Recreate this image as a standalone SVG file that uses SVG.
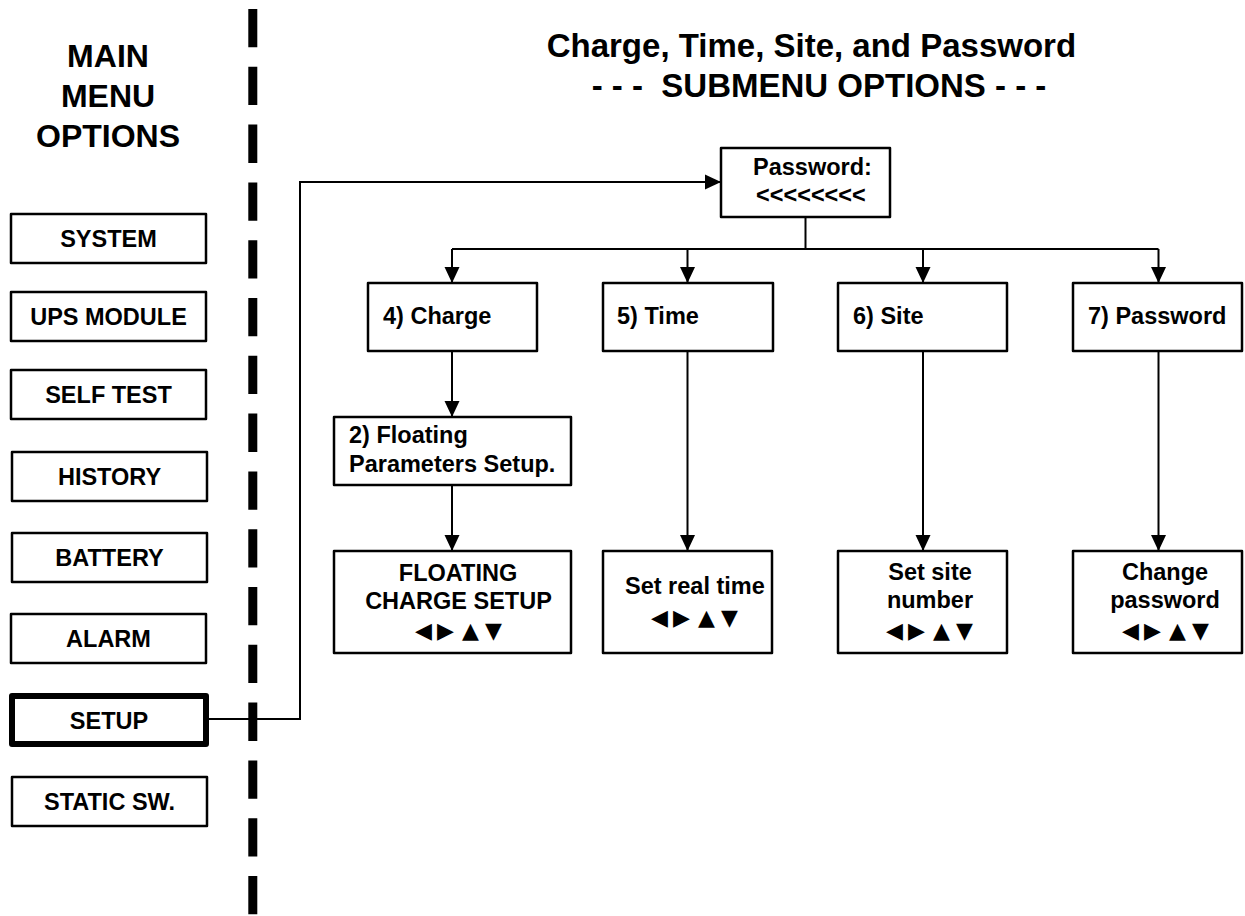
<svg xmlns="http://www.w3.org/2000/svg" width="1245" height="916" viewBox="0 0 1245 916">
<style>
.box{fill:#fff;stroke:#000;stroke-width:2.5;stroke-linejoin:round}
.thick{fill:#fff;stroke:#000;stroke-width:6;stroke-linejoin:round}
.t{font-family:"Liberation Sans",Arial,Helvetica,sans-serif;font-weight:bold;font-size:23.5px;fill:#000}
.h{font-family:"Liberation Sans",Arial,Helvetica,sans-serif;font-weight:bold;fill:#000}
.c{text-anchor:middle}
.sym{font-family:"DejaVu Sans",sans-serif;font-size:22px;fill:#000}
.ln{fill:none;stroke:#000;stroke-width:2}
.div{fill:none;stroke:#000;stroke-width:9;stroke-dasharray:38.3 19.5}
</style>
<defs>
<marker id="arr" markerUnits="userSpaceOnUse" markerWidth="16" markerHeight="16" refX="16" refY="8" orient="auto">
<path d="M0,0.5 L16,8 L0,15.5 z" fill="#000"/>
</marker>
</defs>
<rect width="1245" height="916" fill="#fff"/>

<line class="div" x1="252.8" y1="9" x2="252.8" y2="916"/>

<g id="title-main">
<text class="h c" font-size="32" x="108" y="67">MAIN</text>
<text class="h c" font-size="32" x="108" y="107">MENU</text>
<text class="h c" font-size="32" x="108" y="147">OPTIONS</text>
</g>
<g id="title-sub">
<text class="h" font-size="33" x="546.7" y="56.5">Charge, Time, Site, and Password</text>
<text class="h" font-size="33" x="591.7" y="96.5" xml:space="preserve">- - -  SUBMENU OPTIONS - - -</text>
</g>

<g id="connectors">
<path class="ln" d="M209,719 H300 V182 H721" marker-end="url(#arr)"/>
<path class="ln" d="M805.5,217 V249"/>
<path class="ln" d="M452,249 H1158.5"/>
<path class="ln" d="M452,249 V283" marker-end="url(#arr)"/>
<path class="ln" d="M687.5,249 V283" marker-end="url(#arr)"/>
<path class="ln" d="M923,249 V283" marker-end="url(#arr)"/>
<path class="ln" d="M1158.5,249 V283" marker-end="url(#arr)"/>
<path class="ln" d="M452,351 V417" marker-end="url(#arr)"/>
<path class="ln" d="M452,485 V551" marker-end="url(#arr)"/>
<path class="ln" d="M687.5,351 V551" marker-end="url(#arr)"/>
<path class="ln" d="M923,351 V551" marker-end="url(#arr)"/>
<path class="ln" d="M1158.5,351 V551" marker-end="url(#arr)"/>
</g>

<g id="system"><rect class="box" x="11" y="214" width="195" height="49"/><text class="t c" x="108.5" y="247">SYSTEM</text></g>
<g id="ups-module"><rect class="box" x="11" y="292" width="195" height="49"/><text class="t c" x="108.5" y="325">UPS MODULE</text></g>
<g id="self-test"><rect class="box" x="11" y="370" width="195" height="49"/><text class="t c" x="108.5" y="403">SELF TEST</text></g>
<g id="history"><rect class="box" x="12" y="452" width="195" height="49"/><text class="t c" x="109.5" y="485">HISTORY</text></g>
<g id="battery"><rect class="box" x="12" y="533" width="195" height="49"/><text class="t c" x="109.5" y="566">BATTERY</text></g>
<g id="alarm"><rect class="box" x="11" y="614" width="195" height="49"/><text class="t c" x="108.5" y="647">ALARM</text></g>
<g id="setup"><rect class="thick" x="12" y="696" width="194" height="48"/><text class="t c" x="109" y="728.5">SETUP</text></g>
<g id="static-sw"><rect class="box" x="12" y="777" width="195" height="49"/><text class="t c" x="109.5" y="810">STATIC SW.</text></g>

<g id="password-entry"><rect class="box" x="721" y="148" width="169" height="69"/>
<text class="t" x="753" y="175">Password:</text>
<text class="t" x="756" y="203">&lt;&lt;&lt;&lt;&lt;&lt;&lt;&lt;</text></g>

<g id="charge"><rect class="box" x="368" y="283" width="169" height="68"/><text class="t" x="383" y="324">4) Charge</text></g>
<g id="time"><rect class="box" x="603" y="283" width="170" height="68"/><text class="t" x="617" y="324">5) Time</text></g>
<g id="site"><rect class="box" x="838" y="283" width="169" height="68"/><text class="t" x="853" y="324">6) Site</text></g>
<g id="password"><rect class="box" x="1073" y="283" width="169" height="68"/><text class="t" x="1088" y="324">7) Password</text></g>

<g id="floating-params"><rect class="box" x="334" y="417" width="237" height="68"/>
<text class="t" x="349" y="443">2) Floating</text>
<text class="t" x="349" y="471.5">Parameters Setup.</text></g>

<g id="floating-charge-setup"><rect class="box" x="334" y="551" width="237" height="102"/>
<text class="t c" x="458" y="580.5">FLOATING</text>
<text class="t c" x="458.5" y="608.5">CHARGE SETUP</text>
<text class="sym" y="637.5"><tspan x="415">◀</tspan><tspan x="437">▶</tspan><tspan x="462">▲</tspan><tspan x="485">▼</tspan></text></g>

<g id="set-real-time"><rect class="box" x="603" y="551" width="169" height="102"/>
<text class="t" x="625" y="594">Set real time</text>
<text class="sym" y="624.5"><tspan x="651">◀</tspan><tspan x="673">▶</tspan><tspan x="698">▲</tspan><tspan x="721">▼</tspan></text></g>

<g id="set-site-number"><rect class="box" x="838" y="551" width="169" height="102"/>
<text class="t c" x="930" y="580">Set site</text>
<text class="t c" x="930" y="608">number</text>
<text class="sym" y="637.5"><tspan x="886">◀</tspan><tspan x="908">▶</tspan><tspan x="933">▲</tspan><tspan x="956">▼</tspan></text></g>

<g id="change-password"><rect class="box" x="1073" y="551" width="169" height="102"/>
<text class="t c" x="1165" y="580">Change</text>
<text class="t c" x="1165" y="608">password</text>
<text class="sym" y="637.5"><tspan x="1122">◀</tspan><tspan x="1144">▶</tspan><tspan x="1169">▲</tspan><tspan x="1192">▼</tspan></text></g>
</svg>
